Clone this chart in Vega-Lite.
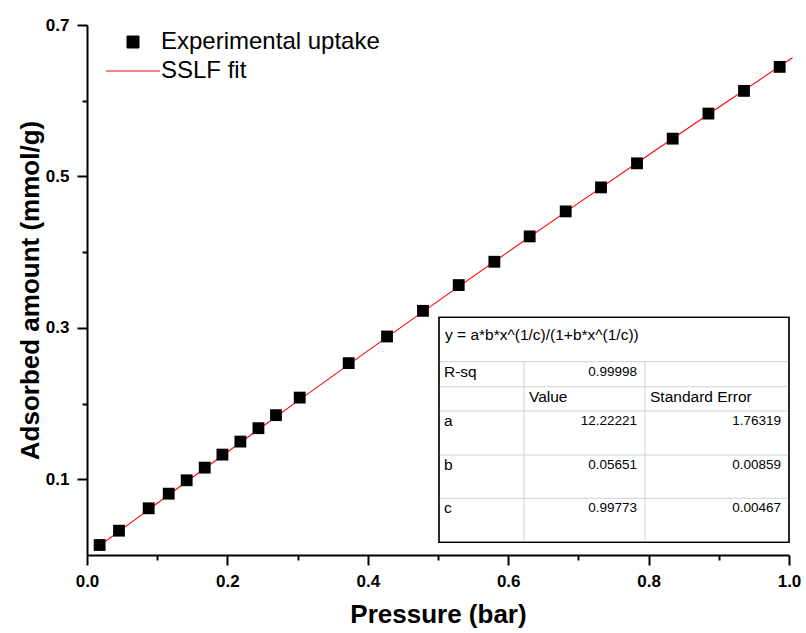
{
  "$schema": "https://vega.github.io/schema/vega-lite/v6.json",
  "width": 702,
  "height": 530,
  "autosize": {"type": "none"},
  "padding": {"left": 87, "top": 25, "right": 17, "bottom": 78},
  "background": "white",
  "config": {"view": {"stroke": null}, "font": "Liberation Sans"},
  "datasets": {
    "pts": [
      {"p": 0.018, "q": 0.0132, "series": "Experimental uptake"},
      {"p": 0.0456, "q": 0.0321, "series": "Experimental uptake"},
      {"p": 0.0879, "q": 0.0617, "series": "Experimental uptake"},
      {"p": 0.1164, "q": 0.081, "series": "Experimental uptake"},
      {"p": 0.142, "q": 0.0987, "series": "Experimental uptake"},
      {"p": 0.1677, "q": 0.1154, "series": "Experimental uptake"},
      {"p": 0.1929, "q": 0.1326, "series": "Experimental uptake"},
      {"p": 0.2185, "q": 0.1498, "series": "Experimental uptake"},
      {"p": 0.2442, "q": 0.1675, "series": "Experimental uptake"},
      {"p": 0.2692, "q": 0.1847, "series": "Experimental uptake"},
      {"p": 0.303, "q": 0.2079, "series": "Experimental uptake"},
      {"p": 0.3728, "q": 0.2534, "series": "Experimental uptake"},
      {"p": 0.4274, "q": 0.2886, "series": "Experimental uptake"},
      {"p": 0.4786, "q": 0.3225, "series": "Experimental uptake"},
      {"p": 0.5295, "q": 0.3565, "series": "Experimental uptake"},
      {"p": 0.5803, "q": 0.3873, "series": "Experimental uptake"},
      {"p": 0.6306, "q": 0.4208, "series": "Experimental uptake"},
      {"p": 0.6819, "q": 0.4538, "series": "Experimental uptake"},
      {"p": 0.7322, "q": 0.4855, "series": "Experimental uptake"},
      {"p": 0.7835, "q": 0.5173, "series": "Experimental uptake"},
      {"p": 0.8343, "q": 0.5499, "series": "Experimental uptake"},
      {"p": 0.8852, "q": 0.583, "series": "Experimental uptake"},
      {"p": 0.9359, "q": 0.613, "series": "Experimental uptake"},
      {"p": 0.9867, "q": 0.6447, "series": "Experimental uptake"}
    ],
    "fit": [
      {"p": 0.018, "q": 0.0123, "series": "SSLF fit"},
      {"p": 0.05, "q": 0.0342, "series": "SSLF fit"},
      {"p": 0.1, "q": 0.0683, "series": "SSLF fit"},
      {"p": 0.15, "q": 0.1023, "series": "SSLF fit"},
      {"p": 0.2, "q": 0.1361, "series": "SSLF fit"},
      {"p": 0.3, "q": 0.2032, "series": "SSLF fit"},
      {"p": 0.4, "q": 0.2696, "series": "SSLF fit"},
      {"p": 0.5, "q": 0.3353, "series": "SSLF fit"},
      {"p": 0.6, "q": 0.4004, "series": "SSLF fit"},
      {"p": 0.7, "q": 0.4647, "series": "SSLF fit"},
      {"p": 0.8, "q": 0.5284, "series": "SSLF fit"},
      {"p": 0.9, "q": 0.5914, "series": "SSLF fit"},
      {"p": 1.0, "q": 0.6537, "series": "SSLF fit"},
      {"p": 1.005, "q": 0.6568, "series": "SSLF fit"}
    ],
    "cells": [
      {"r": 0, "c": 0, "ce": 3, "kind": "title", "text": "y = a*b*x^(1/c)/(1+b*x^(1/c))"},
      {"r": 1, "c": 0, "ce": 1, "kind": "label", "text": "R-sq"},
      {"r": 1, "c": 1, "ce": 2, "kind": "number", "text": "0.99998"},
      {"r": 2, "c": 1, "ce": 2, "kind": "header", "text": "Value"},
      {"r": 2, "c": 2, "ce": 3, "kind": "header", "text": "Standard Error"},
      {"r": 3, "c": 0, "ce": 1, "kind": "label", "text": "a"},
      {"r": 3, "c": 1, "ce": 2, "kind": "number", "text": "12.22221"},
      {"r": 3, "c": 2, "ce": 3, "kind": "number", "text": "1.76319"},
      {"r": 4, "c": 0, "ce": 1, "kind": "label", "text": "b"},
      {"r": 4, "c": 1, "ce": 2, "kind": "number", "text": "0.05651"},
      {"r": 4, "c": 2, "ce": 3, "kind": "number", "text": "0.00859"},
      {"r": 5, "c": 0, "ce": 1, "kind": "label", "text": "c"},
      {"r": 5, "c": 1, "ce": 2, "kind": "number", "text": "0.99773"},
      {"r": 5, "c": 2, "ce": 3, "kind": "number", "text": "0.00467"}
    ],
    "grid": [
      {"x1": 0, "x2": 3, "y1": 1, "y2": 1},
      {"x1": 0, "x2": 3, "y1": 2, "y2": 2},
      {"x1": 0, "x2": 3, "y1": 3, "y2": 3},
      {"x1": 0, "x2": 3, "y1": 4, "y2": 4},
      {"x1": 0, "x2": 3, "y1": 5, "y2": 5},
      {"x1": 1, "x2": 1, "y1": 1, "y2": 6},
      {"x1": 2, "x2": 2, "y1": 1, "y2": 6}
    ],
    "frame": [
      {"x1": 0, "x2": 3, "y1": 0, "y2": 6}
    ]
  },
  "layer": [
    {
      "layer": [
        {
          "data": {"name": "fit"},
          "mark": {"type": "line", "strokeWidth": 1.1},
          "encoding": {
            "x": {"field": "p", "type": "quantitative"},
            "y": {"field": "q", "type": "quantitative"},
            "color": {"field": "series", "type": "nominal"}
          }
        },
        {
          "data": {"name": "pts"},
          "mark": {"type": "point", "filled": true, "shape": "square", "size": 140, "opacity": 1},
          "encoding": {
            "x": {"field": "p", "type": "quantitative"},
            "y": {"field": "q", "type": "quantitative"},
            "color": {"field": "series", "type": "nominal"}
          }
        }
      ],
      "encoding": {
        "x": {
          "field": "p",
          "type": "quantitative",
          "title": "Pressure (bar)",
          "scale": {"domain": [0, 1], "nice": false, "zero": false},
          "axis": {
            "values": [0, 0.1, 0.2, 0.3, 0.4, 0.5, 0.6, 0.7, 0.8, 0.9, 1.0],
            "format": ".1f",
            "labelExpr": "round(datum.value*10) % 2 == 0 ? datum.label : ''",
            "tickSize": {"condition": {"test": "round(datum.value*10) % 2 == 1", "value": 5}, "value": 10},
            "grid": false,
            "domainColor": "black",
            "domainWidth": 2,
            "tickColor": "black",
            "tickWidth": 2,
            "labelFont": "Liberation Sans",
            "labelFontSize": 17,
            "labelFontWeight": "bold",
            "labelColor": "black",
            "labelPadding": 8,
            "labelFlush": false,
            "labelOverlap": false,
            "titleFont": "Liberation Sans",
            "titleFontSize": 26,
            "titleFontWeight": "bold",
            "titleColor": "black",
            "titlePadding": 12
          }
        },
        "y": {
          "field": "q",
          "type": "quantitative",
          "title": "Adsorbed amount (mmol/g)",
          "scale": {"domain": [0, 0.7], "nice": false, "zero": false},
          "axis": {
            "values": [0.1, 0.2, 0.3, 0.4, 0.5, 0.6, 0.7],
            "format": ".1f",
            "labelExpr": "round(datum.value*10) % 2 == 1 ? datum.label : ''",
            "tickSize": {"condition": {"test": "round(datum.value*10) % 2 == 0", "value": 5}, "value": 10},
            "grid": false,
            "domainColor": "black",
            "domainWidth": 2,
            "tickColor": "black",
            "tickWidth": 2,
            "labelFont": "Liberation Sans",
            "labelFontSize": 17,
            "labelFontWeight": "bold",
            "labelColor": "black",
            "labelPadding": 8,
            "labelFlush": false,
            "labelOverlap": false,
            "titleFont": "Liberation Sans",
            "titleFontSize": 26,
            "titleFontWeight": "bold",
            "titleColor": "black",
            "titlePadding": 2
          }
        },
        "color": {
          "field": "series",
          "type": "nominal",
          "scale": {"domain": ["Experimental uptake", "SSLF fit"], "range": ["#000000", "#ff0000"]},
          "legend": {
            "orient": "none",
            "legendX": 34,
            "legendY": 5,
            "title": null,
            "padding": 0,
            "labelFont": "Liberation Sans",
            "labelFontSize": 24,
            "labelColor": "black",
            "labelOffset": 16,
            "labelLimit": 0,
            "symbolSize": 144,
            "rowPadding": 5,
            "encode": {
              "symbols": {
                "update": {
                  "shape": {"signal": "datum.value === 'SSLF fit' ? 'stroke' : 'square'"},
                  "size": {"signal": "datum.value === 'SSLF fit' ? 2900 : 144"},
                  "fill": {"signal": "datum.value === 'SSLF fit' ? 'transparent' : '#000000'"},
                  "stroke": {"signal": "datum.value === 'SSLF fit' ? '#ff0000' : 'transparent'"},
                  "strokeWidth": {"value": 1},
                  "opacity": {"value": 1}
                }
              }
            }
          }
        }
      }
    },
    {
      "layer": [
        {
          "data": {"name": "frame"},
          "mark": {"type": "rect", "fill": "white", "stroke": "black", "strokeWidth": 1.2},
          "encoding": {
            "x": {"field": "x1", "type": "quantitative"},
            "x2": {"field": "x2"},
            "y": {"field": "y1", "type": "quantitative"},
            "y2": {"field": "y2"}
          }
        },
        {
          "data": {"name": "grid"},
          "mark": {"type": "rule", "color": "#d0d0d0", "strokeWidth": 1},
          "encoding": {
            "x": {"field": "x1", "type": "quantitative"},
            "x2": {"field": "x2"},
            "y": {"field": "y1", "type": "quantitative"},
            "y2": {"field": "y2"}
          }
        },
        {
          "data": {"name": "frame"},
          "mark": {"type": "rect", "fill": null, "fillOpacity": 0, "stroke": "black", "strokeWidth": 1.2},
          "encoding": {
            "x": {"field": "x1", "type": "quantitative"},
            "x2": {"field": "x2"},
            "y": {"field": "y1", "type": "quantitative"},
            "y2": {"field": "y2"}
          }
        },
        {
          "data": {"name": "cells"},
          "transform": [{"filter": "datum.kind === 'title'"}],
          "mark": {"type": "text", "align": "left", "baseline": "middle", "dx": 6, "dy": 18, "fontSize": 15.5, "font": "Liberation Sans", "color": "black"},
          "encoding": {
            "x": {"field": "c", "type": "quantitative"},
            "y": {"field": "r", "type": "quantitative"},
            "text": {"field": "text"}
          }
        },
        {
          "data": {"name": "cells"},
          "transform": [{"filter": "datum.kind === 'label' || datum.kind === 'header'"}],
          "mark": {"type": "text", "align": "left", "baseline": "middle", "dx": 5, "dy": 10, "fontSize": 15.5, "font": "Liberation Sans", "color": "black"},
          "encoding": {
            "x": {"field": "c", "type": "quantitative"},
            "y": {"field": "r", "type": "quantitative"},
            "text": {"field": "text"}
          }
        },
        {
          "data": {"name": "cells"},
          "transform": [{"filter": "datum.kind === 'number'"}],
          "mark": {"type": "text", "align": "right", "baseline": "middle", "dx": -8, "dy": 10, "fontSize": 13.5, "font": "Liberation Sans", "color": "black"},
          "encoding": {
            "x": {"field": "ce", "type": "quantitative"},
            "y": {"field": "r", "type": "quantitative"},
            "text": {"field": "text"}
          }
        }
      ],
      "encoding": {
        "x": {
          "type": "quantitative",
          "axis": null,
          "scale": {"domain": [0, 1, 2, 3], "range": [352, 437, 558, 702], "nice": false, "zero": false}
        },
        "y": {
          "type": "quantitative",
          "axis": null,
          "scale": {"domain": [0, 1, 2, 3, 4, 5, 6], "range": [292.3, 336.7, 361.7, 386, 430, 473.3, 517.3], "nice": false, "zero": false}
        }
      }
    }
  ],
  "resolve": {"scale": {"x": "independent", "y": "independent"}}
}
